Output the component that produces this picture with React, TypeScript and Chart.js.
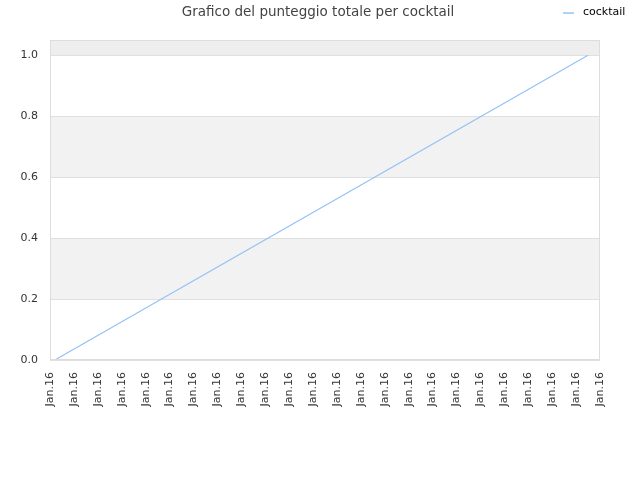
import React, { useEffect, useRef } from "react";
import { Chart, registerables } from "chart.js";

Chart.register(...registerables);

const titleText = "Grafico del punteggio totale per cocktail";
const seriesName = "cocktail";
const tickLabels = [
  "Jan.16", "Jan.16", "Jan.16", "Jan.16", "Jan.16", "Jan.16",
  "Jan.16", "Jan.16", "Jan.16", "Jan.16", "Jan.16", "Jan.16",
  "Jan.16", "Jan.16", "Jan.16", "Jan.16", "Jan.16", "Jan.16",
  "Jan.16", "Jan.16", "Jan.16", "Jan.16", "Jan.16", "Jan.16",
];
const xValues = [0.2, 22.5];
const yValues = [0.0, 1.0];
const yTicks = [0, 0.2, 0.4, 0.6, 0.8, 1.0];

const FONT = "'DejaVu Sans', sans-serif";
const LINE_COLOR = "#94c3f4";

const decorPlugin = {
  id: "decor",
  beforeDraw(chart: any) {
    const { ctx, chartArea, scales } = chart;
    const y = scales.y;
    ctx.save();
    const bounds = [...yTicks, y.max];
    for (let i = 0; i < bounds.length - 1; i++) {
      const top = y.getPixelForValue(bounds[i + 1]);
      const bot = y.getPixelForValue(bounds[i]);
      let fill = "#ffffff";
      if (i === bounds.length - 2) fill = "#eeeeee";
      else if (i % 2 === 1) fill = "#f2f2f2";
      ctx.fillStyle = fill;
      ctx.fillRect(chartArea.left, top, chartArea.right - chartArea.left, bot - top);
    }
    ctx.restore();
  },
  afterDraw(chart: any) {
    const { ctx, chartArea } = chart;
    ctx.save();
    ctx.strokeStyle = "#dddddd";
    ctx.lineWidth = 1;
    ctx.strokeRect(
      Math.round(chartArea.left) + 0.5,
      Math.round(chartArea.top) + 0.5,
      Math.round(chartArea.right - chartArea.left) - 1,
      Math.round(chartArea.bottom - chartArea.top) - 1
    );
    ctx.fillStyle = "#444444";
    ctx.font = `13.5px ${FONT}`;
    ctx.textAlign = "center";
    ctx.textBaseline = "middle";
    ctx.fillText(titleText, 318, 12.5);
    ctx.strokeStyle = LINE_COLOR;
    ctx.lineWidth = 1.5;
    ctx.beginPath();
    ctx.moveTo(563, 13);
    ctx.lineTo(574, 13);
    ctx.stroke();
    ctx.fillStyle = "#000000";
    ctx.font = `11px ${FONT}`;
    ctx.textAlign = "left";
    ctx.fillText(seriesName, 583, 12.5);
    ctx.restore();
  },
};

export default function App() {
  const ref = useRef<HTMLCanvasElement | null>(null);
  useEffect(() => {
    if (!ref.current) return;
    const chart = new Chart(ref.current, {
      type: "scatter",
      data: {
        datasets: [
          {
            label: seriesName,
            data: xValues.map((x, i) => ({ x, y: yValues[i] })),
            showLine: true,
            borderColor: LINE_COLOR,
            backgroundColor: LINE_COLOR,
            borderWidth: 1.2,
            pointRadius: 0,
          },
        ],
      },
      options: {
        animation: false,
        responsive: false,
        layout: { padding: { top: 40, right: 40, left: 0, bottom: 0 } },
        plugins: {
          legend: { display: false },
          title: { display: false },
          tooltip: { enabled: false },
        },
        scales: {
          x: {
            type: "linear",
            min: 0,
            max: tickLabels.length - 1,
            afterFit(scale: any) {
              scale.height = 120;
            },
            afterBuildTicks(scale: any) {
              scale.ticks = tickLabels.map((_, i) => ({ value: i }));
            },
            ticks: {
              stepSize: 1,
              autoSkip: false,
              maxRotation: 90,
              minRotation: 90,
              color: "#333333",
              font: { family: FONT, size: 11 },
              padding: 12,
              callback: (v: any) => tickLabels[Math.round(v)] ?? "",
            },
            grid: { display: false, drawTicks: false },
            border: { display: false },
          },
          y: {
            type: "linear",
            min: 0,
            max: 1.05,
            afterFit(scale: any) {
              scale.width = 50;
            },
            afterBuildTicks(scale: any) {
              scale.ticks = yTicks.map((v) => ({ value: v }));
            },
            ticks: {
              color: "#333333",
              font: { family: FONT, size: 11 },
              padding: 12,
              callback: (v: any) => Number(v).toFixed(1),
            },
            grid: { color: "#e0e0e0", drawTicks: false },
            border: { display: false },
          },
        },
      },
      plugins: [decorPlugin],
    } as any);
    return () => chart.destroy();
  }, []);
  return (
    <div style={{ position: "fixed", left: 0, top: 0, width: 640, height: 480, background: "#fff" }}>
      <canvas ref={ref} width={640} height={480} style={{ width: 640, height: 480 }} />
    </div>
  );
}
